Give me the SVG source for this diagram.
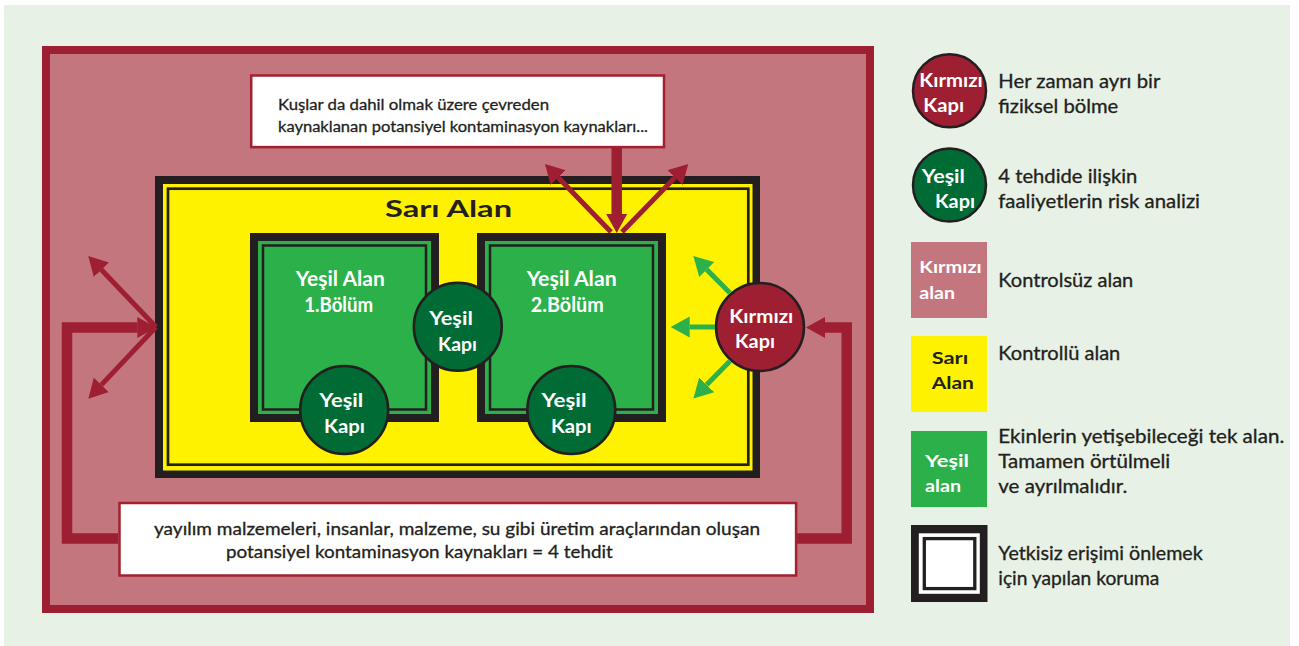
<svg xmlns="http://www.w3.org/2000/svg" width="1299" height="646" viewBox="0 0 1299 646">
<defs>
<style>
.t{font-family:Lato,"Liberation Sans",sans-serif;fill:#231F20;stroke:#231F20;stroke-width:0.3}
.lg{font-size:18.5px}
.bx{font-size:15.5px}
.bb{font-size:17px}
.w{font-family:Lato,"Liberation Sans",sans-serif;font-weight:700;fill:#fff;text-anchor:middle}
.k{font-family:Lato,"Liberation Sans",sans-serif;font-weight:700;fill:#231F20;text-anchor:middle}
.c19{font-size:19.5px}
.c20{font-size:20px}
.red{fill:#9E1F31}
.dg{fill:#006B35}
.ring{stroke:#231F20;stroke-width:2.5}
.box{fill:#fff;stroke:#A3202F;stroke-width:2.5}
.thick{fill:none;stroke:#9E1F31;stroke-width:10.5;stroke-linejoin:miter}
.thin{fill:none;stroke:#9E1F31;stroke-width:5}
.gthin{fill:none;stroke:#2BB04A;stroke-width:5}
</style>
<marker id="hr" markerUnits="userSpaceOnUse" markerWidth="20" markerHeight="22" viewBox="0 -11 20 22" refX="0" refY="0" orient="auto"><path d="M0,-10.5 L19,0 L0,10.5z" fill="#9E1F31"/></marker>
<marker id="hg" markerUnits="userSpaceOnUse" markerWidth="20" markerHeight="22" viewBox="0 -11 20 22" refX="0" refY="0" orient="auto"><path d="M0,-10.5 L19,0 L0,10.5z" fill="#2BB04A"/></marker>
</defs>

<rect x="0" y="0" width="1299" height="646" fill="#fff"/>
<rect x="4" y="5" width="1286" height="641" fill="#E7F1E5"/>

<g id="red-area">
<rect x="46" y="50" width="824" height="559" fill="#C4767F" stroke="#9E1F31" stroke-width="8"/>
</g>

<g id="top-box">
<rect class="box" x="251.2" y="75.5" width="412.8" height="71.6"/>
<text class="t bx" x="278" y="110" textLength="271" lengthAdjust="spacingAndGlyphs">Kuşlar da dahil olmak üzere çevreden</text>
<text class="t bx" x="278" y="132" textLength="370" lengthAdjust="spacingAndGlyphs">kaynaklanan potansiyel kontaminasyon kaynakları...</text>
</g>

<g id="sari-alan">
<rect x="155" y="176" width="605" height="302" fill="#231F20"/>
<rect x="163" y="184" width="589.5" height="286.5" fill="#FFF200"/>
<rect x="168" y="188.7" width="580.3" height="276" fill="none" stroke="#231F20" stroke-width="2.7"/>
<text class="k" x="448.5" y="216.5" style="font-size:23px" textLength="127" lengthAdjust="spacingAndGlyphs">Sarı Alan</text>
</g>

<g id="yesil-alan-1">
<rect x="250" y="233" width="189" height="189" fill="#231F20"/>
<rect x="258" y="241" width="173" height="173" fill="#2BB04A"/>
<rect x="263" y="245.5" width="163" height="164" fill="none" stroke="#231F20" stroke-width="2.5"/>
<text class="w c20" x="340.3" y="286" textLength="89" lengthAdjust="spacingAndGlyphs">Yeşil Alan</text>
<text class="w c20" x="338.7" y="311.5" textLength="69" lengthAdjust="spacingAndGlyphs">1.Bölüm</text>
</g>

<g id="yesil-alan-2">
<rect x="477" y="233" width="189" height="189" fill="#231F20"/>
<rect x="485" y="241" width="173" height="173" fill="#2BB04A"/>
<rect x="490" y="245.5" width="163" height="164" fill="none" stroke="#231F20" stroke-width="2.5"/>
<text class="w c20" x="571.7" y="286" textLength="90" lengthAdjust="spacingAndGlyphs">Yeşil Alan</text>
<text class="w c20" x="567.3" y="311.5" textLength="73" lengthAdjust="spacingAndGlyphs">2.Bölüm</text>
</g>

<g id="yesil-kapi-orta">
<circle class="dg ring" cx="457.8" cy="326.7" r="44"/>
<text class="w c19" x="451" y="325" textLength="43.7" lengthAdjust="spacingAndGlyphs">Yeşil</text>
<text class="w c19" x="457.5" y="350.5" textLength="39" lengthAdjust="spacingAndGlyphs">Kapı</text>
</g>

<g id="yesil-kapi-1">
<circle class="dg ring" cx="344.2" cy="410" r="44"/>
<text class="w c19" x="341.3" y="406.5" textLength="44" lengthAdjust="spacingAndGlyphs">Yeşil</text>
<text class="w c19" x="344.5" y="432.5" textLength="41" lengthAdjust="spacingAndGlyphs">Kapı</text>
</g>

<g id="yesil-kapi-2">
<circle class="dg ring" cx="571.3" cy="410" r="44"/>
<text class="w c19" x="564" y="406.5" textLength="45" lengthAdjust="spacingAndGlyphs">Yeşil</text>
<text class="w c19" x="571.3" y="432.5" textLength="40.7" lengthAdjust="spacingAndGlyphs">Kapı</text>
</g>

<g id="kirmizi-kapi">
<circle class="red ring" cx="760" cy="327" r="44"/>
<text class="w c19" x="761.3" y="323.3" textLength="64" lengthAdjust="spacingAndGlyphs">Kırmızı</text>
<text class="w c19" x="755" y="348.3" textLength="40" lengthAdjust="spacingAndGlyphs">Kapı</text>
</g>

<g id="bottom-box">
<rect class="box" x="119.5" y="503" width="676.6" height="72.5"/>
<text class="t bb" x="154" y="535" textLength="606" lengthAdjust="spacingAndGlyphs">yayılım malzemeleri, insanlar, malzeme, su gibi üretim araçlarından oluşan</text>
<text class="t bb" x="226" y="558.3" textLength="386.7" lengthAdjust="spacingAndGlyphs">potansiyel kontaminasyon kaynakları = 4 tehdit</text>
</g>

<g id="connectors">
<path class="thick" d="M616.7,148 V214" marker-end="url(#hr)"/>
<path class="thin" d="M611,232 L558.2,177.6" marker-end="url(#hr)"/>
<path class="thin" d="M622,232 L675,177.6" marker-end="url(#hr)"/>
<path class="thick" d="M118,538.5 H67 V327.5 H137.3" marker-end="url(#hr)"/>
<path class="thin" d="M156,327 L101.4,269.8" marker-end="url(#hr)"/>
<path class="thin" d="M156,327 L101.4,384.9" marker-end="url(#hr)"/>
<path class="thick" d="M797,538.5 H846.7 V327.5 H825" marker-end="url(#hr)"/>
<path class="gthin" d="M715,327 H689.7" marker-end="url(#hg)"/>
<path class="gthin" d="M730,293 L706.7,269.5" marker-end="url(#hg)"/>
<path class="gthin" d="M730,361 L706.7,384.8" marker-end="url(#hg)"/>
</g>

<g id="legend-kirmizi-kapi">
<circle class="red ring" cx="949.5" cy="90.8" r="36.5"/>
<text class="w" style="font-size:18px" x="951" y="86.7" textLength="63.4" lengthAdjust="spacingAndGlyphs">Kırmızı</text>
<text class="w" style="font-size:18px" x="943.7" y="111.7" textLength="40.7" lengthAdjust="spacingAndGlyphs">Kapı</text>
<text class="t lg" x="998.3" y="88.3" textLength="162" lengthAdjust="spacingAndGlyphs">Her zaman ayrı bir</text>
<text class="t lg" x="998.3" y="113.3" textLength="120" lengthAdjust="spacingAndGlyphs">fiziksel bölme</text>
</g>

<g id="legend-yesil-kapi">
<circle class="dg ring" cx="949.5" cy="185" r="36.5"/>
<text class="w" style="font-size:18px" x="943.3" y="183.3" textLength="43.3" lengthAdjust="spacingAndGlyphs">Yeşil</text>
<text class="w" style="font-size:18px" x="955" y="208.3" textLength="40" lengthAdjust="spacingAndGlyphs">Kapı</text>
<text class="t lg" x="998.3" y="182.7" textLength="139" lengthAdjust="spacingAndGlyphs">4 tehdide ilişkin</text>
<text class="t lg" x="998.3" y="208.3" textLength="201.7" lengthAdjust="spacingAndGlyphs">faaliyetlerin risk analizi</text>
</g>

<g id="legend-kirmizi-alan">
<rect x="911" y="242" width="76" height="76" fill="#C4767F"/>
<text class="w" style="font-size:17.5px;text-anchor:start" x="919.3" y="272.7" textLength="62.4" lengthAdjust="spacingAndGlyphs">Kırmızı</text>
<text class="w" style="font-size:17.5px;text-anchor:start" x="919.3" y="299.3" textLength="35.7" lengthAdjust="spacingAndGlyphs">alan</text>
<text class="t lg" x="998.3" y="287.3" textLength="135" lengthAdjust="spacingAndGlyphs">Kontrolsüz alan</text>
</g>

<g id="legend-sari-alan">
<rect x="911" y="336" width="76" height="76" fill="#FFF200"/>
<text class="k" style="font-size:17.5px" x="950" y="364.3" textLength="36.6" lengthAdjust="spacingAndGlyphs">Sarı</text>
<text class="k" style="font-size:17.5px" x="952.8" y="389.3" textLength="42.3" lengthAdjust="spacingAndGlyphs">Alan</text>
<text class="t lg" x="998.3" y="360" textLength="122" lengthAdjust="spacingAndGlyphs">Kontrollü alan</text>
</g>

<g id="legend-yesil-alan">
<rect x="911" y="431" width="76" height="76" fill="#2BB04A"/>
<text class="w" style="font-size:17.5px;text-anchor:start" x="925" y="466.7" textLength="44" lengthAdjust="spacingAndGlyphs">Yeşil</text>
<text class="w" style="font-size:17.5px;text-anchor:start" x="925" y="491.7" textLength="36" lengthAdjust="spacingAndGlyphs">alan</text>
<text class="t lg" x="998.3" y="443.3" textLength="286" lengthAdjust="spacingAndGlyphs">Ekinlerin yetişebileceği tek alan.</text>
<text class="t lg" x="998.3" y="468.3" textLength="172" lengthAdjust="spacingAndGlyphs">Tamamen örtülmeli</text>
<text class="t lg" x="998.3" y="493.3" textLength="129" lengthAdjust="spacingAndGlyphs">ve ayrılmalıdır.</text>
</g>

<g id="legend-koruma">
<rect x="911" y="525" width="76.5" height="77" fill="#231F20"/>
<rect x="918.8" y="533.3" width="61" height="60.5" fill="#fff"/>
<rect x="924.3" y="538.6" width="50.5" height="50" fill="none" stroke="#231F20" stroke-width="3.3"/>
<text class="t lg" x="998.3" y="560" textLength="204.4" lengthAdjust="spacingAndGlyphs">Yetkisiz erişimi önlemek</text>
<text class="t lg" x="998.3" y="585" textLength="161" lengthAdjust="spacingAndGlyphs">için yapılan koruma</text>
</g>
</svg>
